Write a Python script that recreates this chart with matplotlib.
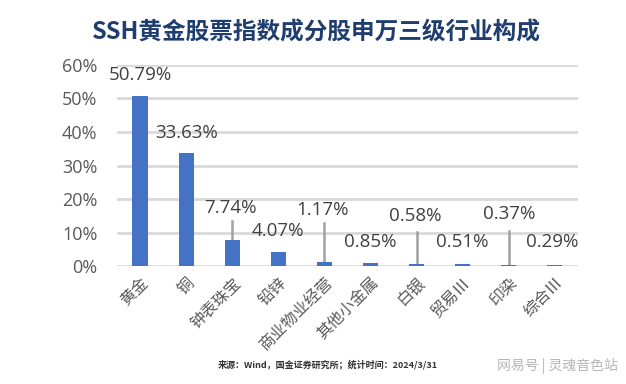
import matplotlib
matplotlib.use('Agg')
from matplotlib import pyplot as plt

plt.rcParams['font.family'] = ['Open Sans', 'Noto Sans CJK SC', 'DejaVu Sans']

TITLE = 'SSH黄金股票指数成分股申万三级行业构成'
SOURCE = '来源：Wind，国金证券研究所；统计时间：2024/3/31'
WATERMARK = '网易号 | 灵魂音色站'

industries = ['黄金', '铜', '钟表珠宝', '铅锌', '商业物业经营',
              '其他小金属', '白银', '贸易Ⅲ', '印染', '综合Ⅲ']
shares = [50.79, 33.63, 7.74, 4.07, 1.17, 0.85, 0.58, 0.51, 0.37, 0.29]
y_ticks = [0, 10, 20, 30, 40, 50, 60]

# where Excel left each data label (x offset in categories, y in %)
label_pos = [(0.0, 57.0), (0.0, 39.6), (-0.05, 17.3), (0.0, 10.4), (-0.05, 16.7),
             (0.0, 7.2), (-0.02, 15.0), (0.0, 7.2), (0.0, 15.4), (-0.05, 7.2)]
# leader line top (in %) for the labels pulled away from their bars
leader_top = {2: 13.6, 4: 13.0, 6: 10.2, 8: 10.4}

BAR_COLOR = '#4472c4'
GRID_COLOR = '#d9d9d9'

fig = plt.figure(figsize=(6.26, 3.84), dpi=100)
ax = fig.add_axes([0.187, 0.307, 0.736, 0.524])

xs = list(range(len(industries)))
ax.bar(xs, shares, width=0.33, color=BAR_COLOR, zorder=3)

for i, val in enumerate(shares):
    dx, ly = label_pos[i]
    ax.text(i + dx, ly, f'{val:.2f}%', ha='center', va='center',
            fontsize=13.5, color='#404040', zorder=4)
    if i in leader_top:
        ax.plot([i, i], [val, leader_top[i]], color='#a0a0a0', lw=1.8, zorder=2)

ax.set_xlim(-0.5, len(industries) - 0.5)
ax.set_ylim(0, 60)
ax.set_yticks(y_ticks)
ax.set_yticklabels([f'{t}%' for t in y_ticks], fontsize=13, color='#595959')
ax.yaxis.grid(True, color=GRID_COLOR, lw=2)
ax.set_axisbelow(True)
for s in ax.spines.values():
    s.set_visible(False)
ax.tick_params(axis='both', length=0)
ax.tick_params(axis='y', pad=14)

ax.set_xticks(xs)
ax.set_xticklabels(industries, rotation=45, ha='right', rotation_mode='anchor',
                   fontsize=11.5, color='#595959',
                   family=['Noto Sans CJK SC', 'DejaVu Sans'])
ax.tick_params(axis='x', pad=6)

fig.text(0.505, 0.914, TITLE, ha='center', va='center', fontsize=17,
         fontweight='bold', color='#1f3d6e',
         family=['Noto Sans CJK SC', 'DejaVu Sans'])
fig.text(0.348, 0.052, SOURCE, ha='left', va='center', fontsize=6.5,
         fontweight='bold', color='#333333',
         family=['Noto Sans CJK SC', 'DejaVu Sans'])
fig.text(0.794, 0.047, WATERMARK, ha='left', va='center', fontsize=10,
         color='#b5b5b5', family=['Noto Sans CJK SC', 'DejaVu Sans'])

fig.savefig('out.png', dpi=100)
